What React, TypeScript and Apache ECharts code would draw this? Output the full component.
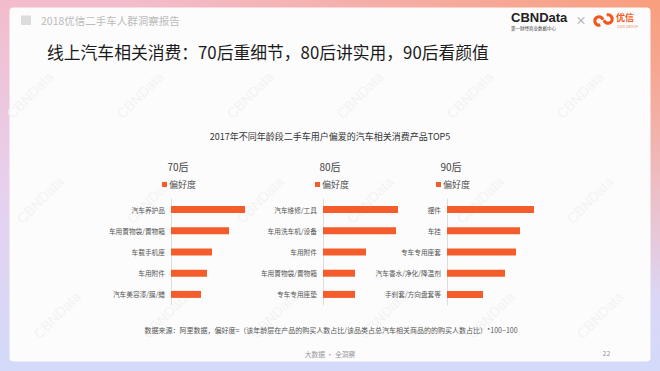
import React, { useEffect, useRef } from "react";
import * as echarts from "echarts";

const groupNames = ["70后", "80后", "90后"];
const cats70 = ["汽车养护品", "车用置物袋/置物箱", "车载手机座", "车用附件", "汽车美容漆/膜/蜡"];
const vals70 = [74, 58, 41, 36, 30];
const cats80 = ["汽车维修/工具", "车用洗车机/设备", "车用附件", "车用置物袋/置物箱", "专车专用座垫"];
const vals80 = [75, 73, 43, 32, 32];
const cats90 = ["摆件", "车挂", "专车专用座套", "汽车香水/净化/降温剂", "手刹套/方向盘套等"];
const vals90 = [87, 73, 69, 58, 36];
const seriesName = "偏好度";

const FONT = '"Noto Sans CJK SC", "Noto Sans", sans-serif';
const BAR = "#F45D2B";

const App: React.FC = () => {
  const ref = useRef<HTMLDivElement>(null);
  useEffect(() => {
    if (!ref.current) return;
    const chart = echarts.init(ref.current, undefined, { renderer: "svg" });
    const cats = [cats70, cats80, cats90];
    const vals = [vals70, vals80, vals90];
    const gridLefts = [171, 323, 447];
    const titleX = [178, 330, 451];
    const legendLefts = [162, 315, 436];

    const txt = (text: string, x: number, y: number, size: number, fill: string, align = "left", extra: any = {}) => ({
      type: "text",
      x,
      y,
      z: 5,
      style: { text, fill, fontSize: size, fontFamily: FONT, textAlign: align, textVerticalAlign: "middle", ...extra },
    });

    const wm: any[] = [];
    const wmRows = [
      { y: 95, xs: [30, 140, 250, 360, 470, 580] },
      { y: 200, xs: [40, 150, 260, 370, 480, 590] },
      { y: 315, xs: [57, 166, 274, 383, 491, 600] },
    ];
    wmRows.forEach((r) =>
      r.xs.forEach((x) =>
        wm.push({
          type: "text",
          x,
          y: r.y,
          rotation: Math.PI / 4,
          z: -5,
          style: { text: "CBNData", fill: "#f3f3f3", fontSize: 14, fontFamily: "Liberation Sans", textAlign: "center", textVerticalAlign: "middle" },
        })
      )
    );

    const graphic: any[] = [
      {
        type: "rect",
        z: -20,
        shape: { x: 0, y: 0, width: 660, height: 371 },
        style: {
          fill: new echarts.graphic.LinearGradient(0, 0, 0, 1, [
            { offset: 0, color: "#f3bccb" },
            { offset: 0.5, color: "#e7d0ee" },
            { offset: 1, color: "#d3dafa" },
          ]),
        },
      },
      {
        type: "rect",
        z: -19,
        shape: { x: 0, y: 0, width: 660, height: 371 },
        style: {
          fill: new echarts.graphic.RadialGradient(1, 0, 0.8, [
            { offset: 0, color: "rgba(248,158,125,1)" },
            { offset: 1, color: "rgba(248,158,125,0)" },
          ]),
        },
      },
      {
        type: "rect",
        z: -18,
        shape: { x: 9.5, y: 7.5, width: 641, height: 354, r: 4 },
        style: { fill: "#fcfcfc" },
      },
      ...wm,
      { type: "rect", z: 5, shape: { x: 21, y: 15.5, width: 10, height: 9.5 }, style: { fill: "#dcdcdc" } },
      txt("2018优信二手车人群洞察报告", 41, 20.5, 10.5, "#bbbbbb"),
      txt("CBNData", 511, 17, 13, "#222222", "left", { fontFamily: "Liberation Sans", fontWeight: "bold" }),
      txt("第一财经商业数据中心", 511, 27.5, 4.5, "#444444"),
      txt("×", 581, 20, 11, "#999999", "center"),
      {
        type: "arc",
        z: 5,
        shape: { cx: 599, cy: 21, r: 4.2, startAngle: Math.PI * 0.4, endAngle: Math.PI * 1.9 },
        style: { stroke: "#F05A22", lineWidth: 3.2, fill: "none" },
      },
      {
        type: "arc",
        z: 5,
        shape: { cx: 608, cy: 19, r: 4.2, startAngle: Math.PI * 1.4, endAngle: Math.PI * 0.9 },
        style: { stroke: "#F05A22", lineWidth: 3.2, fill: "none" },
      },
      txt("优信", 616, 17.5, 9, "#F05A22", "left", { fontWeight: "bold" }),
      txt("USIN GROUP", 617, 26.5, 3.5, "#F08A62"),
      txt("线上汽车相关消费：70后重细节，80后讲实用，90后看颜值", 47, 52, 16.8, "#1a1a1a"),
      txt("2017年不同年龄段二手车用户偏爱的汽车相关消费产品TOP5", 330, 136, 9, "#333333", "center"),
      ...groupNames.map((g, i) => txt(g, titleX[i], 166, 10, "#444444", "center")),
      txt(
        "数据来源：阿里数据，偏好度=（该年龄层在产品的购买人数占比/该品类占总汽车相关商品的的购买人数占比）*100−100",
        331,
        330,
        7,
        "#555555",
        "center"
      ),
      txt("大数据 · 全洞察", 330, 354, 6.8, "#999999", "center"),
      txt("22", 606.5, 352.5, 7, "#999999", "center"),
    ];

    const option: any = {
      animation: false,
      graphic,
      legend: legendLefts.map((l) => ({
        left: l,
        top: 180,
        padding: 0,
        data: [seriesName],
        icon: "rect",
        itemWidth: 5,
        itemHeight: 5,
        itemGap: 2,
        textStyle: { fontSize: 9, color: "#555555", fontFamily: FONT, padding: [0, 0, 0, -3] },
      })),
      grid: gridLefts.map((l) => ({ left: l, top: 199, width: 100, height: 106 })),
      xAxis: gridLefts.map((_, i) => ({
        type: "value",
        gridIndex: i,
        min: 0,
        max: 100,
        show: false,
      })),
      yAxis: cats.map((c, i) => ({
        type: "category",
        gridIndex: i,
        data: c,
        inverse: true,
        axisLine: { show: true, lineStyle: { color: "#dddddd", width: 1 } },
        axisTick: { show: false },
        axisLabel: { fontSize: 6.7, color: "#555555", margin: 6, fontFamily: FONT },
        splitLine: { show: false },
      })),
      series: vals.map((v, i) => ({
        type: "bar",
        name: seriesName,
        xAxisIndex: i,
        yAxisIndex: i,
        data: v,
        barWidth: 7,
        itemStyle: { color: BAR },
      })),
    };
    chart.setOption(option);
    return () => chart.dispose();
  }, []);
  return <div ref={ref} style={{ position: "absolute", left: 0, top: 0, width: 660, height: 371 }} />;
};

export default App;
